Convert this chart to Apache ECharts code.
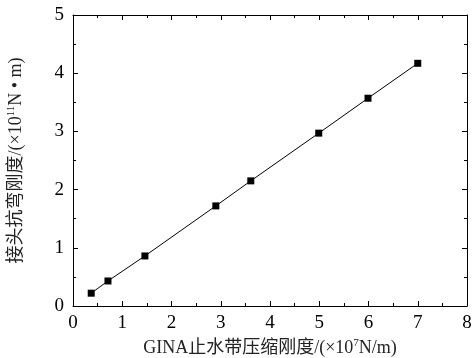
<!DOCTYPE html>
<html>
<head>
<meta charset="utf-8">
<script src="https://cdn.jsdelivr.net/npm/echarts@6/dist/echarts.min.js"></script>
<style>html,body{margin:0;padding:0;background:#fff}#main{width:473px;height:358px}</style>
</head>
<body>
<div id="main"></div>
<script>
// GINA stiffness (x10^7 N/m) vs joint bending stiffness (x10^11 N·m)
const ginaStiffness = [0.37, 0.71, 1.46, 2.9, 3.61, 4.99, 5.99, 7.0];
const jointStiffness = [0.22, 0.43, 0.86, 1.72, 2.15, 2.97, 3.57, 4.17];
const xTicks = [0, 8, 1];
const yTicks = [0, 5, 1];

const font = '"Liberation Serif", "Noto Sans CJK SC", serif';
const chart = echarts.init(document.getElementById('main'));

const axisBase = {
  type: 'value',
  axisLine: { show: true, onZero: false, lineStyle: { color: '#000', width: 1 } },
  axisTick: { show: true, inside: true, length: 5, lineStyle: { color: '#000' } },
  minorTick: { show: true, splitNumber: 2, length: 3, lineStyle: { color: '#000' } },
  splitLine: { show: false },
  axisLabel: { color: '#000', fontFamily: font, fontSize: 19 }
};

chart.setOption({
  animation: false,
  grid: { left: 73, right: 6, top: 15, bottom: 52, outerBoundsMode: 'none' },
  xAxis: [
    Object.assign({}, axisBase, {
      min: xTicks[0], max: xTicks[1], interval: xTicks[2],
      name: '{t|GINA止水带压缩刚度/(×10}{s|7}{t|N/m)}',
      nameLocation: 'middle', nameGap: 31,
      nameTextStyle: {
        rich: {
          t: { fontFamily: font, fontSize: 18, color: '#222' },
          s: { fontFamily: font, fontSize: 11, color: '#222', padding: [0, 0, 9, 0] }
        }
      },
      axisLabel: Object.assign({}, axisBase.axisLabel, { margin: 8 })
    }),
    Object.assign({}, axisBase, {
      position: 'top', min: xTicks[0], max: xTicks[1], interval: xTicks[2],
      axisLabel: { show: false }
    })
  ],
  yAxis: [
    Object.assign({}, axisBase, {
      min: yTicks[0], max: yTicks[1], interval: yTicks[2],
      name: '{t|接头抗弯刚度/(×10}{s|11}{t|N • m)}',
      nameLocation: 'middle', nameGap: 47, nameRotate: 90,
      nameTextStyle: {
        rich: {
          t: { fontFamily: font, fontSize: 18, color: '#222' },
          s: { fontFamily: font, fontSize: 11, color: '#222', padding: [0, 0, 9, 0] }
        }
      },
      axisLabel: Object.assign({}, axisBase.axisLabel, { margin: 9 })
    }),
    Object.assign({}, axisBase, {
      position: 'right', min: yTicks[0], max: yTicks[1], interval: yTicks[2],
      axisLabel: { show: false }
    })
  ],
  series: [{
    type: 'line',
    data: ginaStiffness.map((x, i) => [x, jointStiffness[i]]),
    symbol: 'rect',
    symbolSize: 7,
    itemStyle: { color: '#000' },
    lineStyle: { color: '#000', width: 1 }
  }]
});
</script>
</body>
</html>
